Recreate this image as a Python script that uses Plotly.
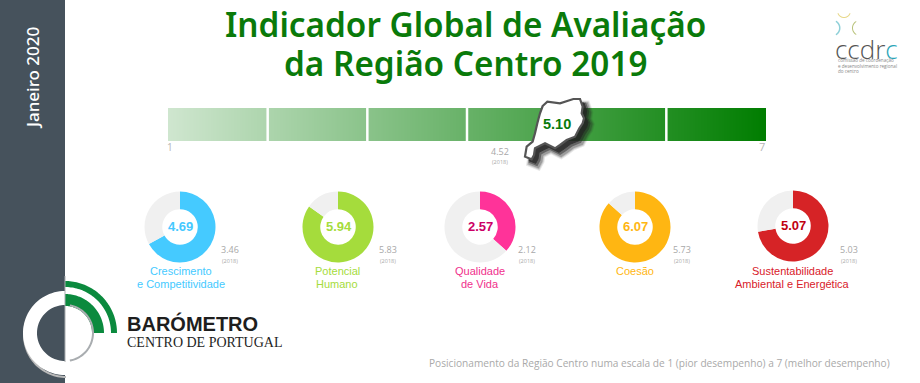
import numpy as np
import plotly.graph_objects as go

W, H = 920, 383
title_lines = ["Indicador Global de Avaliação", "da Região Centro 2019"]
period = "Janeiro 2020"
scale_stops = [1, 2, 3, 4, 5, 6, 7]
overall_value = 5.10
overall_prev = 4.52
prev_label = "(2018)"
categories = [["Crescimento", "e Competitividade"], ["Potencial", "Humano"], ["Qualidade", "de Vida"], ["Coesão"],
              ["Sustentabilidade", "Ambiental e Energética"]]
values = [4.69, 5.94, 2.57, 6.07, 5.07]
previous = [3.46, 5.83, 2.12, 5.73, 5.03]
colors = ["#45caff", "#a5dc3c", "#ff3399", "#ffb612", "#d62326"]
value_colors = ["#45c8ff", "#a5dc3c", "#cc0066", "#ffb612", "#c00010"]
label_colors = ["#45caff", "#a5dc3c", "#f0308c", "#ffb612", "#d8202a"]
track = "#f0f0f0"
footnote = "Posicionamento da Região Centro numa escala de 1 (pior desempenho) a 7 (melhor desempenho)"
ccdrc_lines = ["comissão de coordenação", "e desenvolvimento regional", "do centro"]

# layout (pixel positions of the panels)
centers = [(180, 227), (338, 227), (480, 227), (635, 227), (793, 226)]
R = 35.5
prev_x = [230, 388, 527, 682, 849]
label_x = [181, 337, 480, 635, 792]

def px(x): return x / W
def py(y): return 1 - y / H

fig = go.Figure()
# gradient scale bar
fig.add_trace(go.Heatmap(x=scale_stops, y=[0, 1], z=[scale_stops, scale_stops], zsmooth="best",
                         colorscale=[[0, "#cfe6cf"], [1, "#007d00"]], zmin=1, zmax=7, showscale=False,
                         hoverinfo="skip"))
for i, (v, c) in enumerate(zip(values, colors)):
    cx, cy = centers[i]
    fig.add_trace(go.Pie(values=[v, 7 - v], marker=dict(colors=[c, track], line=dict(width=0)), hole=0.5,
                         sort=False, direction="clockwise", rotation=0, textinfo="none", showlegend=False,
                         hoverinfo="skip",
                         domain=dict(x=[px(cx - R), px(cx + R)], y=[py(cy + R), py(cy - R)])))

def poly(points):
    return "M" + " L".join(f"{px(x):.5f},{py(y):.5f}" for x, y in points) + " Z"

def arc(cx, cy, r0, r1, a0, a1, n=50):
    t = np.radians(np.linspace(a0, a1, n))
    outer = [(cx + r1 * np.cos(a), cy + r1 * np.sin(a)) for a in t]
    inner = [(cx + r0 * np.cos(a), cy + r0 * np.sin(a)) for a in t[::-1]]
    return poly(outer + inner)

shapes = []
def add(path, fill, line=None, lw=0, op=1):
    shapes.append(dict(type="path", xref="paper", yref="paper", path=path, fillcolor=fill, opacity=op,
                       line=dict(color=line or fill, width=lw), layer="above"))

# side band
shapes.append(dict(type="rect", xref="paper", yref="paper", x0=0, x1=px(65), y0=0, y1=1, fillcolor="#46525c",
                   line=dict(width=0), layer="below"))
# separators of the scale
for s in scale_stops[1:-1]:
    shapes.append(dict(type="line", xref="x", yref="y", x0=s, x1=s, y0=0, y1=1,
                       line=dict(color="white", width=2.5), layer="above"))

# region outline with its soft shadow
region = np.array([(248, 318), (262, 305), (300, 310), (340, 297), (360, 297), (368, 320), (365, 340), (372, 355),
                   (368, 370), (358, 385), (345, 410), (320, 420), (300, 435), (285, 445), (255, 430), (240, 437),
                   (225, 445), (222, 465), (215, 478), (195, 470), (200, 440), (218, 425), (225, 400), (232, 370),
                   (240, 340)], float) / 3 + np.array([460, 0])
for off, lw, op in [(6, 9, 0.10), (6, 7, 0.16), (6, 5, 0.25), (5, 3, 0.45), (4, 1, 0.7)]:
    add(poly(region + np.array([off, off])), "#222222", "#222222", lw, op)
add(poly(region), "#ffffff", "#555555", 2.2)

# barometer logo
add(arc(65, 333, 46, 52, -90, 0), "#0b8a3e")
add(arc(65, 333, 27, 39, -90, 0), "#0b8a3e")
add(arc(66, 335, 41, 43, 90, 225), "#b9b9b9")
add(arc(65, 333, 28, 42, 90, 270), "#ffffff")
add(arc(65, 333, 28, 42, 0, 90), "#ffffff")
add(arc(65, 333, 27, 29, -80, 80), "#a9adb0")
shapes.append(dict(type="line", xref="paper", yref="paper", x0=px(65), x1=px(65), y0=py(276), y1=py(362),
                   line=dict(color="#a9adb0", width=1), layer="above"))

# ccdrc logo marks
add(arc(832, 28, 7, 8.5, -60, 60), "#8fd0d8")
add(arc(844, 11, 6, 7, 20, 160), "#e8d98a")
add(arc(860, 28, 7, 8, 120, 240), "#b8c27a")

fig.update_layout(shapes=shapes)

ann = []
def text(x, y, s, size, color, family="Liberation Sans", weight=None, angle=0, xanchor="center"):
    f = dict(size=size, color=color, family=family)
    if weight:
        f["weight"] = weight
    ann.append(dict(x=px(x), y=py(y), xref="paper", yref="paper", text=s, showarrow=False, font=f, textangle=angle,
                    xanchor=xanchor, yanchor="middle", align="center"))

text(466, 24, title_lines[0], 33.3, "#0a7a0a", "Noto Sans", 600)
text(466, 63, title_lines[1], 33.3, "#0a7a0a", "Noto Sans", 600)
text(32, 78, period, 17, "#ffffff", "Noto Sans", 500, angle=-90)
text(170, 147, str(scale_stops[0]), 10, "#b5b5b5", "Open Sans")
text(762, 146, str(scale_stops[-1]), 11, "#b5b5b5", "Open Sans")
text(500, 151, f"{overall_prev:.2f}", 9, "#a8a8a8", "Open Sans")
text(500, 162, prev_label, 5.5, "#a8a8a8", "Open Sans")
text(557, 124, f"{overall_value:.2f}", 14.5, "#0a7a0a", "Liberation Sans", 700)
for i in range(5):
    cx, cy = centers[i]
    text(cx + 0.5, cy - 0.5, f"{values[i]:.2f}", 13, value_colors[i], "Liberation Sans", 700)
    text(prev_x[i], 249, f"{previous[i]:.2f}", 9, "#a8a8a8", "Open Sans")
    text(prev_x[i], 261, prev_label, 5.5, "#a8a8a8", "Open Sans")
    for j, line in enumerate(categories[i]):
        text(label_x[i], 271 + 13 * j, line, 11, label_colors[i])
text(892, 363, footnote, 10.15, "#a9a9a9", "Open Sans", xanchor="right")
text(125, 323, "BARÓMETRO", 20, "#1e1e1e", "Liberation Sans", 700, xanchor="left")
text(125, 342, "CENTRO DE PORTUGAL", 14, "#1e1e1e", "Liberation Sans Narrow", xanchor="left")
text(866, 49, 'ccdr<span style="color:#2aa5b8">c</span>', 26, "#555555", "Open Sans", 300)
for j, line in enumerate(ccdrc_lines):
    text(836, 60 + 5.5 * j, line, 4.6, "#888888", "Open Sans", xanchor="left")

fig.update_layout(
    width=W, height=H, margin=dict(l=0, r=0, t=0, b=0), paper_bgcolor="white", plot_bgcolor="white",
    showlegend=False, annotations=ann,
    xaxis=dict(domain=[px(168), px(766)], range=[1, 7], visible=False, fixedrange=True),
    yaxis=dict(domain=[py(141), py(108)], range=[0, 1], visible=False, fixedrange=True),
)
fig.write_html("out.html", config=dict(displayModeBar=False),
               post_script="document.body.style.margin='0';document.documentElement.style.overflow='hidden';")
